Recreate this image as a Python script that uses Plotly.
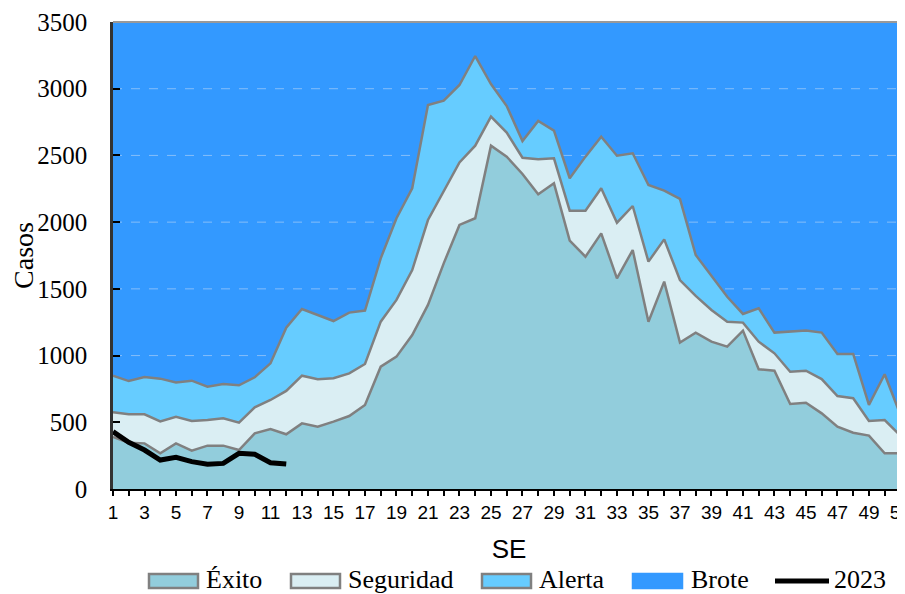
import plotly.graph_objects as go

weeks = list(range(1, 53))
exito = [390, 347, 342, 267, 342, 287, 325, 325, 292, 417,
         450, 410, 492, 467, 505, 547, 630, 917, 992, 1154,
         1380, 1691, 1979, 2029, 2573, 2491, 2361, 2209, 2291, 1861,
         1741, 1916, 1579, 1791, 1254, 1554, 1097, 1172, 1104, 1067,
         1187, 897, 887, 637, 647, 567, 467, 422, 400, 267,
         267, 150]
seguridad = [575, 560, 560, 507, 542, 510, 517, 530, 497, 612,
             667, 735, 849, 822, 830, 867, 937, 1254, 1417, 1641,
             2016, 2236, 2448, 2573, 2791, 2671, 2483, 2471, 2478, 2086,
             2086, 2254, 1996, 2121, 1704, 1871, 1566, 1447, 1342, 1254,
             1247, 1104, 1017, 879, 887, 824, 697, 680, 510, 517,
             400, 400]
alerta = [849, 809, 839, 827, 799, 812, 767, 787, 777, 837,
          942, 1209, 1349, 1304, 1259, 1322, 1337, 1729, 2029, 2254,
          2878, 2910, 3028, 3245, 3035, 2870, 2608, 2758, 2686, 2329,
          2491, 2641, 2498, 2516, 2278, 2236, 2174, 1754, 1600, 1441,
          1312, 1354, 1172, 1179, 1187, 1172, 1012, 1012, 630, 860,
          555, 850]
brote_top = 3500
weeks_2023 = list(range(1, 13))
casos_2023 = [430, 350, 292, 217, 237, 205, 185, 192, 267, 260, 197, 187]

y_ticks = [0, 500, 1000, 1500, 2000, 2500, 3000, 3500]
x_ticktext = [str(w) if w % 2 == 1 else "" for w in weeks]
legend_labels = ["Éxito", "Seguridad", "Alerta", "Brote", "2023"]

C_EXITO = "#92CDDC"
C_SEG = "#DAEEF3"
C_ALERTA = "#66CCFF"
C_BROTE = "#3399FF"
C_EDGE = "#808080"
SERIF = "Liberation Serif, Times New Roman, serif"
SANS = "Liberation Sans, Arial, sans-serif"

# plot area geometry on screen (pixels) used to place the custom legend
L, T, W, H = 113, 22, 792, 467
def px(x):
    return (x - L) / W
def py(y):
    return (T + H - y) / H

fig = go.Figure()

fig.add_trace(go.Scatter(x=weeks, y=[brote_top for _ in weeks], name="Brote",
                         mode="lines", fill="tozeroy", fillcolor=C_BROTE,
                         line=dict(color=C_BROTE, width=0), hoverinfo="skip"))

gx, gy = [], []
for t in y_ticks[1:-1]:
    gx += [weeks[0], weeks[-1], None]
    gy += [t, t, None]
fig.add_trace(go.Scatter(x=gx, y=gy, mode="lines",
                         line=dict(color="rgba(200,220,245,0.55)", width=1, dash="dash"),
                         hoverinfo="skip"))

fig.add_trace(go.Scatter(x=weeks, y=exito, name="Éxito", mode="lines",
                         fill="tozeroy", fillcolor=C_EXITO,
                         line=dict(color=C_EDGE, width=2.5)))
fig.add_trace(go.Scatter(x=weeks, y=seguridad, name="Seguridad", mode="lines",
                         fill="tonexty", fillcolor=C_SEG,
                         line=dict(color=C_EDGE, width=2.5)))
fig.add_trace(go.Scatter(x=weeks, y=alerta, name="Alerta", mode="lines",
                         fill="tonexty", fillcolor=C_ALERTA,
                         line=dict(color=C_EDGE, width=2.5)))
fig.add_trace(go.Scatter(x=weeks_2023, y=casos_2023, name="2023", mode="lines",
                         line=dict(color="black", width=5)))

# custom legend (boxes with grey borders, as in the original)
shapes = [dict(type="line", xref="paper", yref="paper", x0=0, x1=1, y0=1, y1=1,
               line=dict(color="#999999", width=2))]
annotations = []
box_x = [148, 290, 481, 632]
box_fill = [C_EXITO, C_SEG, C_ALERTA, C_BROTE]
box_line = [C_EDGE, C_EDGE, C_EDGE, C_BROTE]
text_x = [204, 346, 537, 689, 832]
for bx, fc, lc in zip(box_x, box_fill, box_line):
    shapes.append(dict(type="rect", xref="paper", yref="paper",
                       x0=px(bx + 1), x1=px(bx + 50), y0=py(588), y1=py(574),
                       fillcolor=fc, line=dict(color=lc, width=2.5)))
shapes.append(dict(type="line", xref="paper", yref="paper",
                   x0=px(775), x1=px(829), y0=py(581), y1=py(581),
                   line=dict(color="black", width=5)))
for tx, lab in zip(text_x, legend_labels):
    annotations.append(dict(xref="paper", yref="paper", x=px(tx), y=py(579),
                            xanchor="left", yanchor="middle", showarrow=False,
                            text=lab, font=dict(family=SERIF, size=26, color="black")))

fig.update_layout(
    width=905, height=594,
    margin=dict(l=105, r=8, t=14, b=113),
    paper_bgcolor="white", plot_bgcolor=C_BROTE,
    showlegend=False,
    xaxis=dict(range=[1, 51.29], tickmode="array", tickvals=weeks, ticktext=x_ticktext,
               ticks="outside", ticklen=5, tickwidth=1.5, tickcolor="black",
               showline=True, linecolor="black", linewidth=2, showgrid=False,
               zeroline=False, tickangle=0, automargin=False,
               tickfont=dict(family=SANS, size=19, color="black"),
               title=dict(text="SE", font=dict(family=SANS, size=26, color="black"),
                          standoff=18)),
    xaxis2=dict(range=[1, 51.29], overlaying="x", anchor="y", side="bottom",
                tickmode="array", tickvals=weeks, ticks="inside", ticklen=7,
                tickwidth=1.5, tickcolor="black", showticklabels=False,
                showline=False, showgrid=False, zeroline=False, automargin=False),
    yaxis=dict(range=[0, brote_top], tickmode="array", tickvals=y_ticks,
               ticks="inside", ticklen=7, tickwidth=2, tickcolor="black",
               showline=True, linecolor="#333333", linewidth=2.5, showgrid=False,
               zeroline=False, ticklabelstandoff=18, automargin=False,
               tickfont=dict(family=SERIF, size=25, color="black"),
               title=dict(text="Casos", font=dict(family=SERIF, size=28, color="black"),
                          standoff=0)),
    shapes=shapes,
    annotations=annotations,
)

fig.write_html("out.html")
